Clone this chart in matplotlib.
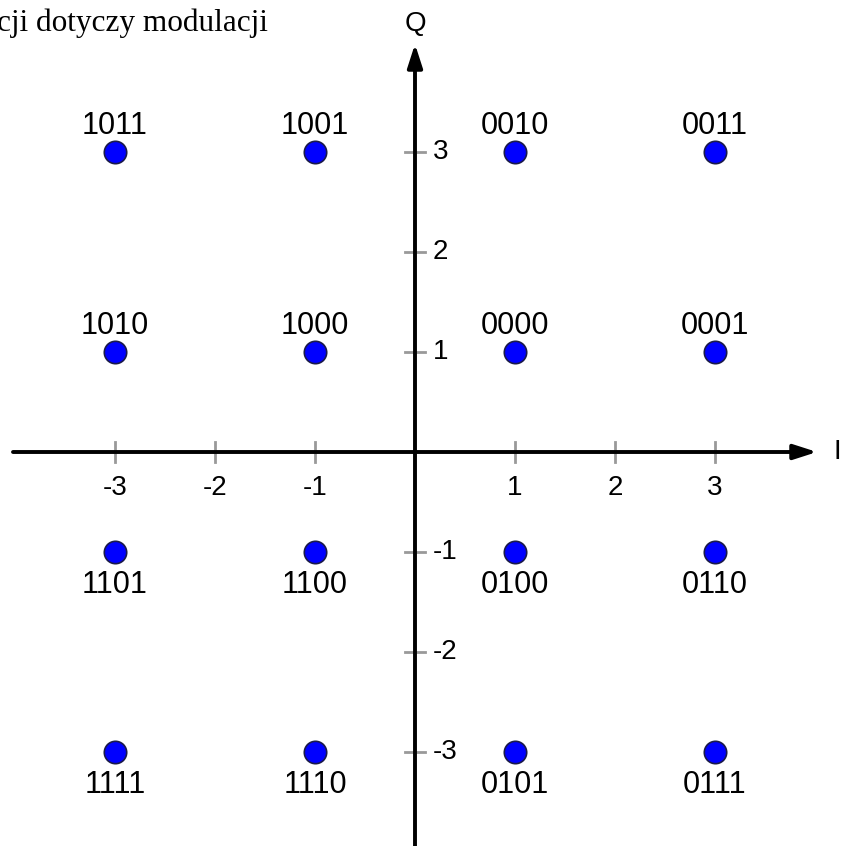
import matplotlib
matplotlib.use("Agg")
import matplotlib.pyplot as plt

# 16-QAM constellation
i_vals = [-3, -1, 1, 3, -3, -1, 1, 3, -3, -1, 1, 3, -3, -1, 1, 3]
q_vals = [3, 3, 3, 3, 1, 1, 1, 1, -1, -1, -1, -1, -3, -3, -3, -3]
codes = ["1011", "1001", "0010", "0011",
         "1010", "1000", "0000", "0001",
         "1101", "1100", "0100", "0110",
         "1111", "1110", "0101", "0111"]
x_ticks = [-3, -2, -1, 1, 2, 3]
y_ticks = [3, 2, 1, -1, -2, -3]
header = "cji dotyczy modulacji"

fig = plt.figure(figsize=(8.48, 8.46), dpi=100)
ax = fig.add_axes([0, 0, 1, 1])
ax.set_xlim(-4.15, 4.33)
ax.set_ylim(-3.94, 4.52)
ax.axis("off")

font = "Liberation Sans"

# axes with arrows
ax.annotate("", xy=(4.02, 0), xytext=(-4.02, 0),
            arrowprops=dict(arrowstyle="-|>,head_length=1.4,head_width=0.45",
                            lw=2.8, color="black", shrinkA=0, shrinkB=0))
ax.annotate("", xy=(0, 4.08), xytext=(0, -4.0),
            arrowprops=dict(arrowstyle="-|>,head_length=1.4,head_width=0.45",
                            lw=2.8, color="black", shrinkA=0, shrinkB=0))
ax.text(4.22, 0, "I", fontsize=20, family=font, ha="center", va="center")
ax.text(0, 4.28, "Q", fontsize=20, family=font, ha="center", va="center")

# ticks
for t in x_ticks:
    ax.plot([t, t], [-0.1, 0.1], color="#999999", lw=2, zorder=1)
    ax.text(t, -0.36, str(t), fontsize=20, family=font, ha="center", va="center")
for t in y_ticks:
    ax.plot([-0.1, 0.1], [t, t], color="#999999", lw=2, zorder=1)
    ax.text(0.18, t, str(t), fontsize=20, family=font, ha="left", va="center")

# points
ax.scatter(i_vals, q_vals, s=260, color="#0000ff", edgecolors="#1a1a4a",
           linewidths=1.2, zorder=3)
for x, y, c in zip(i_vals, q_vals, codes):
    if y > 0:
        ax.text(x, y + 0.26, c, fontsize=22, family=font, ha="center", va="center")
    else:
        ax.text(x, y - 0.33, c, fontsize=22, family=font, ha="center", va="center")

fig.text(-0.004, 0.972, header, fontsize=22.5, family="Liberation Serif",
         ha="left", va="center")

fig.savefig("out.png", dpi=100)
